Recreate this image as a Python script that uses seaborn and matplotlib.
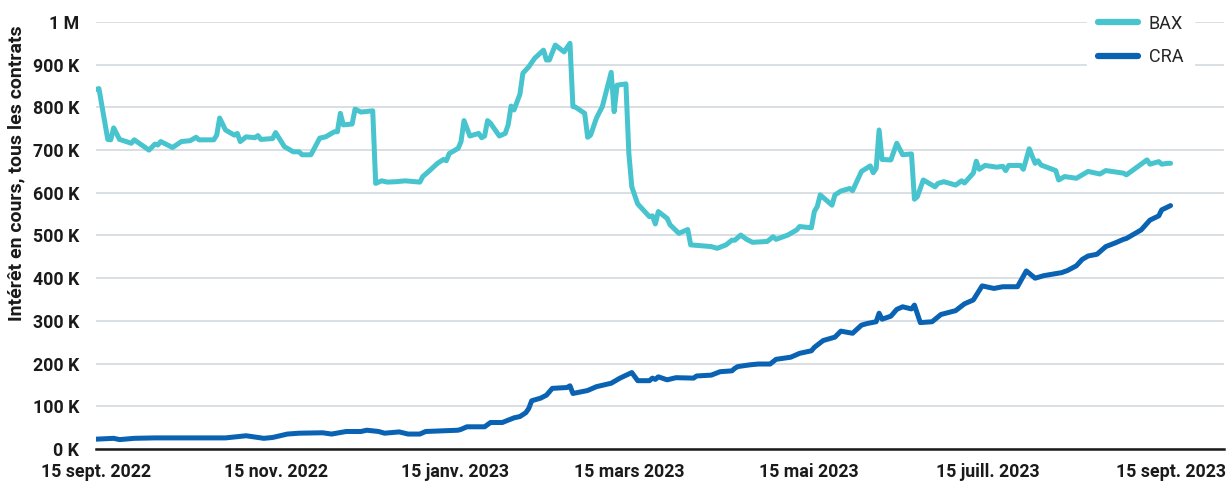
import pandas as pd
import seaborn as sns
import matplotlib.pyplot as plt
from matplotlib.ticker import FuncFormatter

# BAX open interest (thousands of contracts)
bax_dates = [
    '2022-09-15', '2022-09-16', '2022-09-19', '2022-09-20', '2022-09-21', '2022-09-23',
    '2022-09-27', '2022-09-28', '2022-10-03', '2022-10-05', '2022-10-06', '2022-10-07',
    '2022-10-11', '2022-10-14', '2022-10-17', '2022-10-19', '2022-10-20', '2022-10-25',
    '2022-10-26', '2022-10-27', '2022-10-29', '2022-11-01', '2022-11-02', '2022-11-03',
    '2022-11-05', '2022-11-08', '2022-11-09', '2022-11-10', '2022-11-14', '2022-11-15',
    '2022-11-18', '2022-11-21', '2022-11-23', '2022-11-24', '2022-11-27', '2022-11-30',
    '2022-12-02', '2022-12-05', '2022-12-06', '2022-12-07', '2022-12-08', '2022-12-11',
    '2022-12-12', '2022-12-14', '2022-12-18', '2022-12-19', '2022-12-21', '2022-12-23',
    '2022-12-26', '2022-12-29', '2023-01-03', '2023-01-04', '2023-01-06', '2023-01-09',
    '2023-01-11', '2023-01-12', '2023-01-13', '2023-01-16', '2023-01-17', '2023-01-18',
    '2023-01-20', '2023-01-23', '2023-01-24', '2023-01-25', '2023-01-26', '2023-01-27',
    '2023-01-30', '2023-02-01', '2023-02-02', '2023-02-03', '2023-02-04', '2023-02-06',
    '2023-02-07', '2023-02-09', '2023-02-11', '2023-02-14', '2023-02-15', '2023-02-16',
    '2023-02-18', '2023-02-21', '2023-02-23', '2023-02-24', '2023-02-25', '2023-02-28',
    '2023-03-01', '2023-03-02', '2023-03-04', '2023-03-06', '2023-03-09', '2023-03-10',
    '2023-03-11', '2023-03-14', '2023-03-15', '2023-03-16', '2023-03-18', '2023-03-22',
    '2023-03-23', '2023-03-24', '2023-03-25', '2023-03-28', '2023-03-29', '2023-04-01',
    '2023-04-04', '2023-04-05', '2023-04-12', '2023-04-14', '2023-04-17', '2023-04-19',
    '2023-04-20', '2023-04-22', '2023-04-24', '2023-04-26', '2023-05-01', '2023-05-03',
    '2023-05-04', '2023-05-08', '2023-05-11', '2023-05-12', '2023-05-16', '2023-05-17',
    '2023-05-18', '2023-05-19', '2023-05-23', '2023-05-24', '2023-05-26', '2023-05-29',
    '2023-05-30', '2023-06-02', '2023-06-05', '2023-06-06', '2023-06-07', '2023-06-08',
    '2023-06-09', '2023-06-12', '2023-06-14', '2023-06-16', '2023-06-19', '2023-06-20',
    '2023-06-21', '2023-06-23', '2023-06-27', '2023-06-28', '2023-06-30', '2023-07-04',
    '2023-07-06', '2023-07-07', '2023-07-10', '2023-07-11', '2023-07-12', '2023-07-14',
    '2023-07-18', '2023-07-20', '2023-07-21', '2023-07-22', '2023-07-26', '2023-07-27',
    '2023-07-29', '2023-07-31', '2023-08-01', '2023-08-02', '2023-08-07', '2023-08-08',
    '2023-08-10', '2023-08-14', '2023-08-18', '2023-08-22', '2023-08-24', '2023-08-30',
    '2023-08-31', '2023-09-07', '2023-09-08', '2023-09-11', '2023-09-12', '2023-09-14',
    '2023-09-15',
]
bax_values = [
    842, 844, 725, 724, 752, 725,
    716, 724, 700, 714, 712, 720,
    706, 720, 722, 730, 724, 724,
    735, 775, 747, 735, 739, 720,
    731, 729, 734, 725, 727, 741,
    708, 696, 696, 689, 689, 728,
    731, 743, 743, 786, 759, 761,
    796, 789, 792, 622, 628, 625,
    626, 628, 625, 638, 650, 669,
    678, 675, 692, 704, 720, 769,
    733, 739, 729, 733, 769, 763,
    733, 739, 759, 803, 794, 831,
    880, 895, 915, 934, 911, 911,
    946, 930, 950, 802, 800, 786,
    730, 735, 775, 802, 882, 790,
    852, 855, 692, 614, 574, 544,
    546, 527, 556, 540, 525, 505,
    514, 478, 474, 470, 478, 489,
    489, 501, 491, 484, 486, 497,
    491, 501, 513, 521, 518, 556,
    568, 595, 571, 595, 604, 610,
    605, 650, 663, 647, 657, 747,
    678, 677, 716, 689, 691, 585,
    591, 630, 614, 622, 626, 618,
    628, 623, 646, 674, 655, 664,
    660, 662, 652, 664, 664, 655,
    703, 669, 675, 665, 652, 630,
    638, 634, 650, 644, 652, 646,
    642, 677, 667, 673, 667, 669,
    669,
]

# CRA open interest (thousands of contracts)
cra_dates = [
    '2022-09-15', '2022-09-21', '2022-09-23', '2022-09-28', '2022-10-05', '2022-10-29',
    '2022-11-05', '2022-11-11', '2022-11-14', '2022-11-19', '2022-11-23', '2022-12-01',
    '2022-12-04', '2022-12-09', '2022-12-14', '2022-12-16', '2022-12-20', '2022-12-22',
    '2022-12-27', '2022-12-30', '2023-01-03', '2023-01-05', '2023-01-16', '2023-01-17',
    '2023-01-19', '2023-01-25', '2023-01-27', '2023-01-31', '2023-02-04', '2023-02-06',
    '2023-02-08', '2023-02-09', '2023-02-10', '2023-02-13', '2023-02-15', '2023-02-17',
    '2023-02-22', '2023-02-23', '2023-02-24', '2023-03-01', '2023-03-04', '2023-03-09',
    '2023-03-12', '2023-03-16', '2023-03-18', '2023-03-22', '2023-03-23', '2023-03-24',
    '2023-03-25', '2023-03-28', '2023-03-31', '2023-04-06', '2023-04-07', '2023-04-12',
    '2023-04-15', '2023-04-19', '2023-04-20', '2023-04-21', '2023-04-25', '2023-04-28',
    '2023-05-02', '2023-05-04', '2023-05-09', '2023-05-12', '2023-05-16', '2023-05-17',
    '2023-05-20', '2023-05-24', '2023-05-26', '2023-05-30', '2023-06-02', '2023-06-04',
    '2023-06-07', '2023-06-08', '2023-06-09', '2023-06-12', '2023-06-14', '2023-06-16',
    '2023-06-19', '2023-06-20', '2023-06-22', '2023-06-26', '2023-06-29', '2023-07-04',
    '2023-07-07', '2023-07-10', '2023-07-13', '2023-07-17', '2023-07-20', '2023-07-25',
    '2023-07-28', '2023-07-31', '2023-08-03', '2023-08-09', '2023-08-11', '2023-08-14',
    '2023-08-16', '2023-08-18', '2023-08-21', '2023-08-24', '2023-08-27', '2023-08-30',
    '2023-08-31', '2023-09-05', '2023-09-08', '2023-09-11', '2023-09-12', '2023-09-15',
]
cra_values = [
    23, 25, 22, 25, 26, 26,
    31, 25, 27, 35, 37, 38,
    35, 41, 41, 44, 41, 37,
    40, 35, 35, 41, 44, 46,
    52, 52, 62, 62, 73, 76,
    85, 95, 113, 119, 126, 142,
    144, 148, 130, 137, 146, 154,
    166, 179, 160, 160, 166, 163,
    169, 162, 167, 166, 171, 173,
    181, 183, 189, 193, 197, 199,
    199, 210, 215, 224, 230, 238,
    254, 262, 276, 271, 290, 294,
    298, 318, 304, 311, 327, 333,
    328, 337, 296, 298, 315, 324,
    340, 349, 382, 376, 380, 380,
    417, 400, 406, 413, 418, 429,
    444, 452, 456, 474, 482, 491,
    493, 513, 536, 546, 560, 570,
]

series_names = ['BAX', 'CRA']
series_colors = ['#47C4CE', '#0A62B3']
tick_dates = ['2022-09-15', '2022-11-15', '2023-01-15', '2023-03-15',
              '2023-05-15', '2023-07-15', '2023-09-15']
tick_labels = ['15 sept. 2022', '15 nov. 2022', '15 janv. 2023', '15 mars 2023',
               '15 mai 2023', '15 juill. 2023', '15 sept. 2023']

df = pd.concat([
    pd.DataFrame({'date': pd.to_datetime(bax_dates), 'value': [v * 1000 for v in bax_values], 'serie': 'BAX'}),
    pd.DataFrame({'date': pd.to_datetime(cra_dates), 'value': [v * 1000 for v in cra_values], 'serie': 'CRA'}),
])

sns.set_theme(style='white')
plt.rcParams['font.family'] = ['Roboto', 'DejaVu Sans']

fig = plt.figure(figsize=(12.26, 4.83), dpi=100)
ax = fig.add_axes([0.0783, 0.0704, 0.9197, 0.8841])

sns.lineplot(data=df, x='date', y='value', hue='serie', hue_order=series_names,
             palette=dict(zip(series_names, series_colors)), linewidth=3.6,
             solid_joinstyle='round', ax=ax, zorder=3)

ax.set_ylim(0, 1_000_000)
ax.set_xlim(pd.Timestamp('2022-09-15'), pd.Timestamp('2023-10-03'))
ax.set_yticks(range(0, 1_000_001, 100_000))
ax.yaxis.set_major_formatter(FuncFormatter(lambda v, p: '1 M' if v >= 1_000_000 else f'{int(v / 1000)} K'))
ax.set_xticks(pd.to_datetime(tick_dates))
ax.set_xticklabels(tick_labels)

ax.grid(axis='y', color='#D5DCE0', linewidth=1.3, zorder=0)
ax.grid(axis='x', visible=False)
for side in ['left', 'right', 'top']:
    ax.spines[side].set_visible(False)
ax.spines['bottom'].set_color('#1a1a1a')
ax.spines['bottom'].set_linewidth(1.8)
ax.tick_params(axis='x', direction='out', length=7, width=1.5, color='#1a1a1a', pad=3)
ax.tick_params(axis='y', length=0, pad=12)
for lab in ax.get_xticklabels() + ax.get_yticklabels():
    lab.set_fontweight('bold')
    lab.set_fontsize(12.8)
    lab.set_color('#1a1a1a')

ax.set_xlabel('')
ax.set_ylabel('Intérêt en cours, tous les contrats', fontsize=14, fontweight='bold', color='#1a1a1a')
ax.yaxis.set_label_coords(-0.063, 0.645)

leg = ax.legend(loc='upper right', bbox_to_anchor=(0.982, 1.064), frameon=True, fontsize=13,
                handlelength=2.2, handletextpad=0.6, labelspacing=0.85, borderpad=0.6)
leg.get_frame().set_facecolor('white')
leg.get_frame().set_edgecolor('white')
leg.get_frame().set_alpha(1)
leg.get_frame().set_boxstyle('square', pad=0)
for h in leg.get_lines():
    h.set_linewidth(4.5)
    h.set_solid_capstyle('round')

fig.savefig('out.png', dpi=100)
